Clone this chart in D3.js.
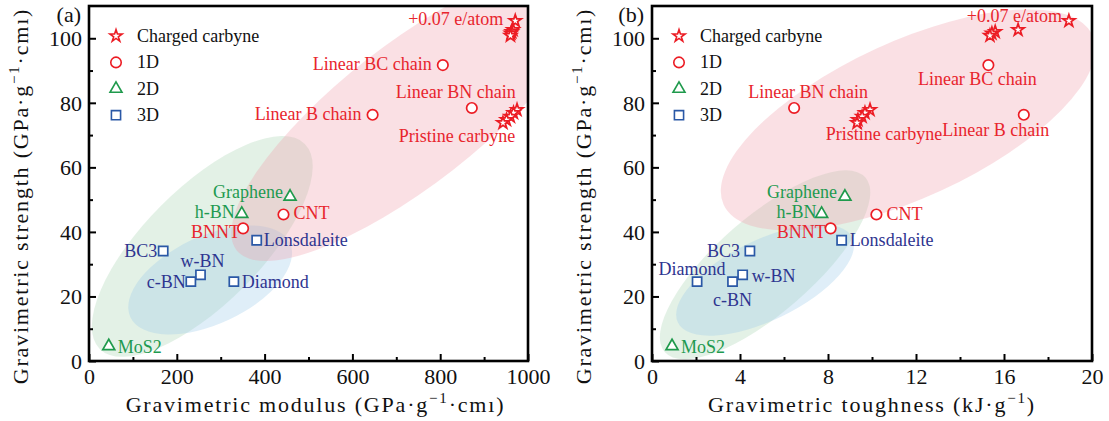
<!DOCTYPE html>
<html lang="en">
<head>
<meta charset="UTF-8">
<title>Gravimetric strength</title>
<script src="https://cdn.jsdelivr.net/npm/d3@7"></script>
<style>
body { margin: 0; background: #fff; }
text { font-family: "Liberation Serif", "Times New Roman", serif; }
.tick text { font-size: 22px; }
.title { font-size: 22px; letter-spacing: 1.8px; }
.lbl { font-size: 18px; }
</style>
</head>
<body>
<svg id="chart" width="1109" height="421"></svg>
<script>
// values; strength is shared (GPa·g-1·cm3)
var chargedStrength = [105.4, 102.6, 102.0, 101.5, 100.8];
var chargedModulus  = [971, 966, 963, 961, 960];
var chargedTough    = [18.95, 16.64, 15.6, 15.45, 15.36];

var pristineStrength = [77.8, 76.9, 75.7, 74.7, 73.8];
var pristineModulus  = [975, 967, 960, 951, 943];
var pristineTough    = [9.91, 9.68, 9.55, 9.36, 9.32];

var oneDNames    = ["Linear BC chain", "Linear BN chain", "Linear B chain", "CNT", "BNNT"];
var oneDStrength = [91.7, 78.4, 76.3, 45.4, 41.1];
var oneDModulus  = [806, 872, 646, 443, 351];
var oneDTough    = [15.29, 6.46, 16.9, 10.2, 8.12];

var twoDNames    = ["Graphene", "h-BN", "MoS2"];
var twoDStrength = [50.9, 45.6, 4.6];
var twoDModulus  = [458, 348, 45];
var twoDTough    = [8.77, 7.71, 0.91];

var threeDNames    = ["BC3", "w-BN", "c-BN", "Diamond", "Lonsdaleite"];
var threeDStrength = [34.1, 26.7, 24.6, 24.6, 37.4];
var threeDModulus  = [169, 254, 232, 330, 382];
var threeDTough    = [4.45, 4.12, 3.66, 2.05, 8.62];

var legendNames = ["Charged carbyne", "1D", "2D", "3D"];
var yTicks = [0, 20, 40, 60, 80, 100];
var yMinor = [10, 30, 50, 70, 90];

var RED = "#ec1c24", GREEN = "#1f9a4c", BLUE = "#2a58a6";
var REDTXT = "#e8252d", GREENTXT = "#1e9a50", BLUETXT = "#2e3590";

var svg = d3.select("#chart");

var groups = [
  {key: "charged",  symbol: d3.symbolStar,     size: 46, color: RED,   strength: chargedStrength,  a: chargedModulus,  b: chargedTough},
  {key: "pristine", symbol: d3.symbolStar,     size: 46, color: RED,   strength: pristineStrength, a: pristineModulus, b: pristineTough},
  {key: "1d",       symbol: d3.symbolCircle,   size: 86, color: RED,   strength: oneDStrength,     a: oneDModulus,     b: oneDTough},
  {key: "2d",       symbol: d3.symbolTriangle, size: 62, color: GREEN, strength: twoDStrength,     a: twoDModulus,     b: twoDTough},
  {key: "3d",       symbol: d3.symbolSquare,   size: 84, color: BLUE,  strength: threeDStrength,   a: threeDModulus,   b: threeDTough}
];
var names = {charged: ["+0.07 e/atom"], pristine: ["Pristine carbyne"], "1d": oneDNames, "2d": twoDNames, "3d": threeDNames};
var txtColor = {charged: REDTXT, pristine: REDTXT, "1d": REDTXT, "2d": GREENTXT, "3d": BLUETXT};

// label placement: group, index, anchor, dx, dy (px from marker)
var labelsA = [
  ["charged", 0, "end", -12, 4], ["pristine", 0, "middle", -60, 32],
  ["1d", 0, "end", -11, 5], ["1d", 1, "middle", -16, -10], ["1d", 2, "end", -11, 5],
  ["1d", 3, "start", 10, 5], ["1d", 4, "end", -3, 10],
  ["2d", 0, "end", -7, 1], ["2d", 1, "end", -7, 4], ["2d", 2, "start", 9, 7],
  ["3d", 0, "end", -6, 6], ["3d", 1, "middle", 2, -8], ["3d", 2, "end", -5, 6],
  ["3d", 3, "start", 8, 6], ["3d", 4, "start", 7, 6]
];
var labelsB = [
  ["charged", 0, "end", -7, 1], ["pristine", 0, "middle", 14, 30],
  ["1d", 0, "middle", -11, 20], ["1d", 1, "middle", 14, -10], ["1d", 2, "middle", -28, 21],
  ["1d", 3, "start", 10, 6], ["1d", 4, "end", -5, 10],
  ["2d", 0, "end", -8, 1], ["2d", 1, "end", -5, 4], ["2d", 2, "start", 9, 7],
  ["3d", 0, "end", -10, 6], ["3d", 1, "start", 9, 7], ["3d", 2, "middle", 0, 24],
  ["3d", 3, "middle", -5, -7], ["3d", 4, "start", 8, 6]
];

// shaded regions: centre in data units, radii in px, tilt in degrees
var ellipsesA = [
  {cx: 258, cy: 35.5, rx: 145, ry: 58, rot: 45, fill: "#a8d4b2"},
  {cx: 276, cy: 25.1, rx: 88, ry: 44, rot: 25, fill: "#9bcae8"},
  {cx: 731, cy: 76.3, rx: 220, ry: 70, rot: 38, fill: "#f0a0aa"}
];
var ellipsesB = [
  {cx: 5.14, cy: 29.8, rx: 133, ry: 48, rot: 41, fill: "#a8d4b2"},
  {cx: 5.14, cy: 25.1, rx: 97, ry: 40, rot: 26, fill: "#9bcae8"},
  {cx: 11.64, cy: 74.7, rx: 203, ry: 78, rot: 24.7, fill: "#f0a0aa"}
];

function drawPanel(p) {
  var top = 6, bottom = 361;
  var x = d3.scaleLinear().domain(p.xDomain).range([p.left, p.right]);
  var y = d3.scaleLinear().domain([0, 110]).range([bottom, top]);
  var g = svg.append("g");

  g.append("clipPath").attr("id", "clip" + p.id)
    .append("rect").attr("x", p.left).attr("y", top)
    .attr("width", p.right - p.left).attr("height", bottom - top);

  g.append("g").attr("clip-path", "url(#clip" + p.id + ")")
    .selectAll("ellipse").data(p.ellipses).join("ellipse")
    .attr("rx", function(d) { return d.rx; })
    .attr("ry", function(d) { return d.ry; })
    .attr("transform", function(d) { return "translate(" + x(d.cx) + "," + y(d.cy) + ") rotate(" + (-d.rot) + ")"; })
    .attr("fill", function(d) { return d.fill; })
    .attr("fill-opacity", 0.32);

  // axes, ticks pointing inward
  g.append("g").attr("transform", "translate(0," + bottom + ")")
    .call(d3.axisBottom(x).tickValues(p.xTicks).tickSize(-7).tickPadding(7).tickFormat(d3.format("d")));
  g.append("g").attr("transform", "translate(0," + bottom + ")")
    .call(d3.axisBottom(x).tickValues(p.xMinor).tickSize(-4).tickFormat(""));
  var ya = g.append("g").attr("transform", "translate(" + p.left + ",0)")
    .call(d3.axisLeft(y).tickValues(yTicks).tickSize(-7).tickPadding(7));
  g.append("g").attr("transform", "translate(" + p.left + ",0)")
    .call(d3.axisLeft(y).tickValues(yMinor).tickSize(-4).tickFormat(""));
  g.selectAll(".domain").remove();
  g.selectAll(".tick line").attr("stroke", "#000").attr("stroke-width", 2);
  g.selectAll(".tick text").attr("fill", "#111").attr("font-family", "Liberation Serif");
  ya.selectAll(".tick text").attr("dy", "0.34em");

  g.append("rect").attr("x", p.left).attr("y", top)
    .attr("width", p.right - p.left).attr("height", bottom - top)
    .attr("fill", "none").attr("stroke", "#000").attr("stroke-width", 2.6);

  // point labels
  p.labels.forEach(function(l) {
    var gr = groups.find(function(d) { return d.key === l[0]; });
    var vx = p.xKey === "a" ? gr.a[l[1]] : gr.b[l[1]];
    g.append("text").attr("class", "lbl")
      .attr("x", x(vx) + l[3]).attr("y", y(gr.strength[l[1]]) + l[4])
      .attr("text-anchor", l[2]).attr("fill", txtColor[l[0]])
      .text(names[l[0]][l[0] === "charged" || l[0] === "pristine" ? 0 : l[1]]);
  });

  // markers
  groups.forEach(function(gr) {
    var xs = p.xKey === "a" ? gr.a : gr.b;
    g.append("g").selectAll("path").data(gr.strength).join("path")
      .attr("d", d3.symbol().type(gr.symbol).size(gr.size))
      .attr("transform", function(d, i) { return "translate(" + x(xs[i]) + "," + y(d) + ")"; })
      .attr("fill", "#fff").attr("stroke", gr.color).attr("stroke-width", 1.7);
  });

  // legend
  var leg = [groups[0], groups[2], groups[3], groups[4]];
  leg.forEach(function(gr, i) {
    var ly = 36 + i * 26.4;
    g.append("path").attr("d", d3.symbol().type(gr.symbol).size(gr.size))
      .attr("transform", "translate(" + (p.left + 27) + "," + ly + ")")
      .attr("fill", "#fff").attr("stroke", gr.color).attr("stroke-width", 1.6);
    g.append("text").attr("class", "lbl").attr("x", p.left + 48).attr("y", ly + 6)
      .attr("font-size", 18.5).attr("fill", "#111").text(legendNames[i]);
  });

  g.append("text").attr("x", p.left - 8).attr("y", 22).attr("text-anchor", "end")
    .attr("font-size", 22).attr("fill", "#111").text(p.tag);

  // axis titles
  var xt = g.append("text").attr("class", "title").attr("fill", "#111")
    .attr("x", (p.left + p.right) / 2 + p.titleShift).attr("y", 412).attr("text-anchor", "middle");
  xt.append("tspan").text(p.xTitle[0]);
  xt.append("tspan").attr("font-size", 15).attr("dy", -9).text("−1");
  xt.append("tspan").attr("dy", 9).text(p.xTitle[1]);

  var yt = g.append("text").attr("class", "title").attr("fill", "#111")
    .attr("text-anchor", "middle")
    .attr("transform", "translate(" + (p.left - 61) + ",196) rotate(-90)");
  yt.append("tspan").text("Gravimetric strength (GPa·g");
  yt.append("tspan").attr("font-size", 15).attr("dy", -9).text("−1");
  yt.append("tspan").attr("dy", 9).text("·cmı)");
}

drawPanel({id: "a", tag: "(a)", left: 89, right: 528, xDomain: [0, 1000],
  xTicks: [0, 200, 400, 600, 800, 1000], xMinor: [100, 300, 500, 700, 900],
  xKey: "a", labels: labelsA, ellipses: ellipsesA, titleShift: 7,
  xTitle: ["Gravimetric modulus (GPa·g", "·cmı)"]});
drawPanel({id: "b", tag: "(b)", left: 652, right: 1092, xDomain: [0, 20],
  xTicks: [0, 4, 8, 12, 16, 20], xMinor: [2, 6, 10, 14, 18],
  xKey: "b", labels: labelsB, ellipses: ellipsesB, titleShift: 0,
  xTitle: ["Gravimetric toughness (kJ·g", ")"]});
</script>
</body>
</html>
